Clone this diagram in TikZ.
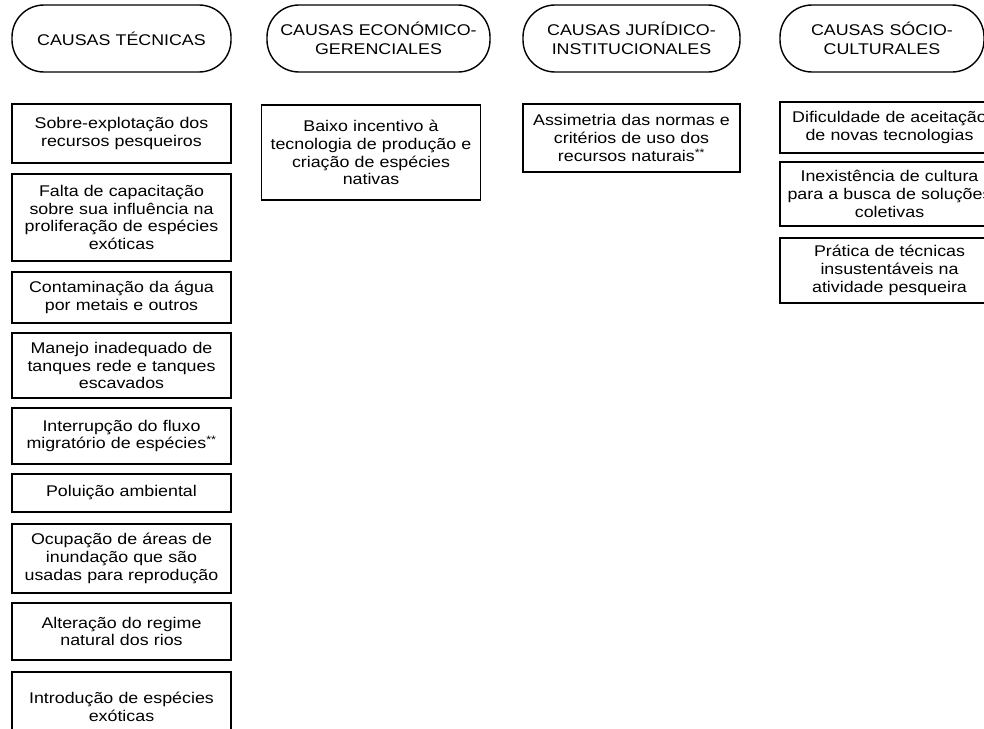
\documentclass[tikz,border=0pt]{standalone}
\usepackage{fontspec}
\setmainfont{Liberation Sans}[FakeStretch=1.15]
\tikzset{
  titulo/.style={draw, line width=1.4pt, rounded corners=32pt, minimum height=67pt,
    text width=200pt, align=center, inner sep=0pt, font=\fontsize{15.5}{19.5}\selectfont},
  causa/.style={draw, line width=1.4pt, minimum width=219pt, text width=219pt,
    align=center, inner sep=0pt, font=\fontsize{15.5}{17.8}\selectfont}
}

\begin{document}
\begin{tikzpicture}[x=1pt, y=-1pt]
  \useasboundingbox (0,0) rectangle (984,728);
  \def\cA{121.5}\def\cB{371}\def\cC{631.5}\def\cD{889.5}
  % Causas tecnicas
  \node[titulo, minimum width=219pt] (tec) at (\cA,38.5) {CAUSAS TÉCNICAS};
  \node[causa, minimum height=59pt] (tec1) at (\cA,133.5) {Sobre-explotação dos\\recursos pesqueiros};
  \node[causa, minimum height=87pt] (tec2) at (\cA,217.5) {Falta de capacitação\\sobre sua influência na\\proliferação de espécies\\exóticas};
  \node[causa, minimum height=51pt] (tec3) at (\cA,297.5) {Contaminação da água\\por metais e outros};
  \node[causa, minimum height=65pt] (tec4) at (\cA,365.5) {Manejo inadequado de\\tanques rede e tanques\\escavados};
  \node[causa, minimum height=56pt] (tec5) at (\cA,436) {Interrupção do fluxo\\migratório de espécies\textsuperscript{**}};
  \node[causa, minimum height=38pt] (tec6) at (\cA,493) {Poluição ambiental};
  \node[causa, minimum height=69pt] (tec7) at (\cA,558.5) {Ocupação de áreas de\\inundação que são\\usadas para reprodução};
  \node[causa, minimum height=57pt] (tec8) at (\cA,631.5) {Alteração do regime\\natural dos rios};
  \node[causa, minimum height=70pt, text depth=18pt] (tec9) at (\cA,707) {Introdução de espécies\\exóticas};
  % Causas economico-gerenciales
  \node[titulo, minimum width=223pt] (eco) at (378.5,38.5) {CAUSAS ECONÓMICO-\\GERENCIALES};
  \node[causa, minimum height=95pt] (eco1) at (\cB,152.5) {Baixo incentivo à\\tecnologia de produção e\\criação de espécies\\nativas};
  % Causas juridico-institucionales
  \node[titulo, minimum width=217pt] (jur) at (\cC,38.5) {CAUSAS JURÍDICO-\\INSTITUCIONALES};
  \node[causa, minimum height=68pt, text width=217pt, minimum width=217pt] (jur1) at (\cC,138) {Assimetria das normas e\\critérios de uso dos\\recursos naturais\textsuperscript{**}};
  % Causas socio-culturales
  \node[titulo, minimum width=204pt] (soc) at (882,38.5) {CAUSAS SÓCIO-\\CULTURALES};
  \node[causa, minimum height=51pt] (soc1) at (\cD,127.5) {Dificuldade de aceitação\\de novas tecnologias};
  \node[causa, minimum height=64pt] (soc2) at (\cD,194) {Inexistência de cultura\\para a busca de soluções\\coletivas};
  \node[causa, minimum height=65pt] (soc3) at (\cD,270.5) {Prática de técnicas\\insustentáveis na\\atividade pesqueira};
\end{tikzpicture}
\end{document}
